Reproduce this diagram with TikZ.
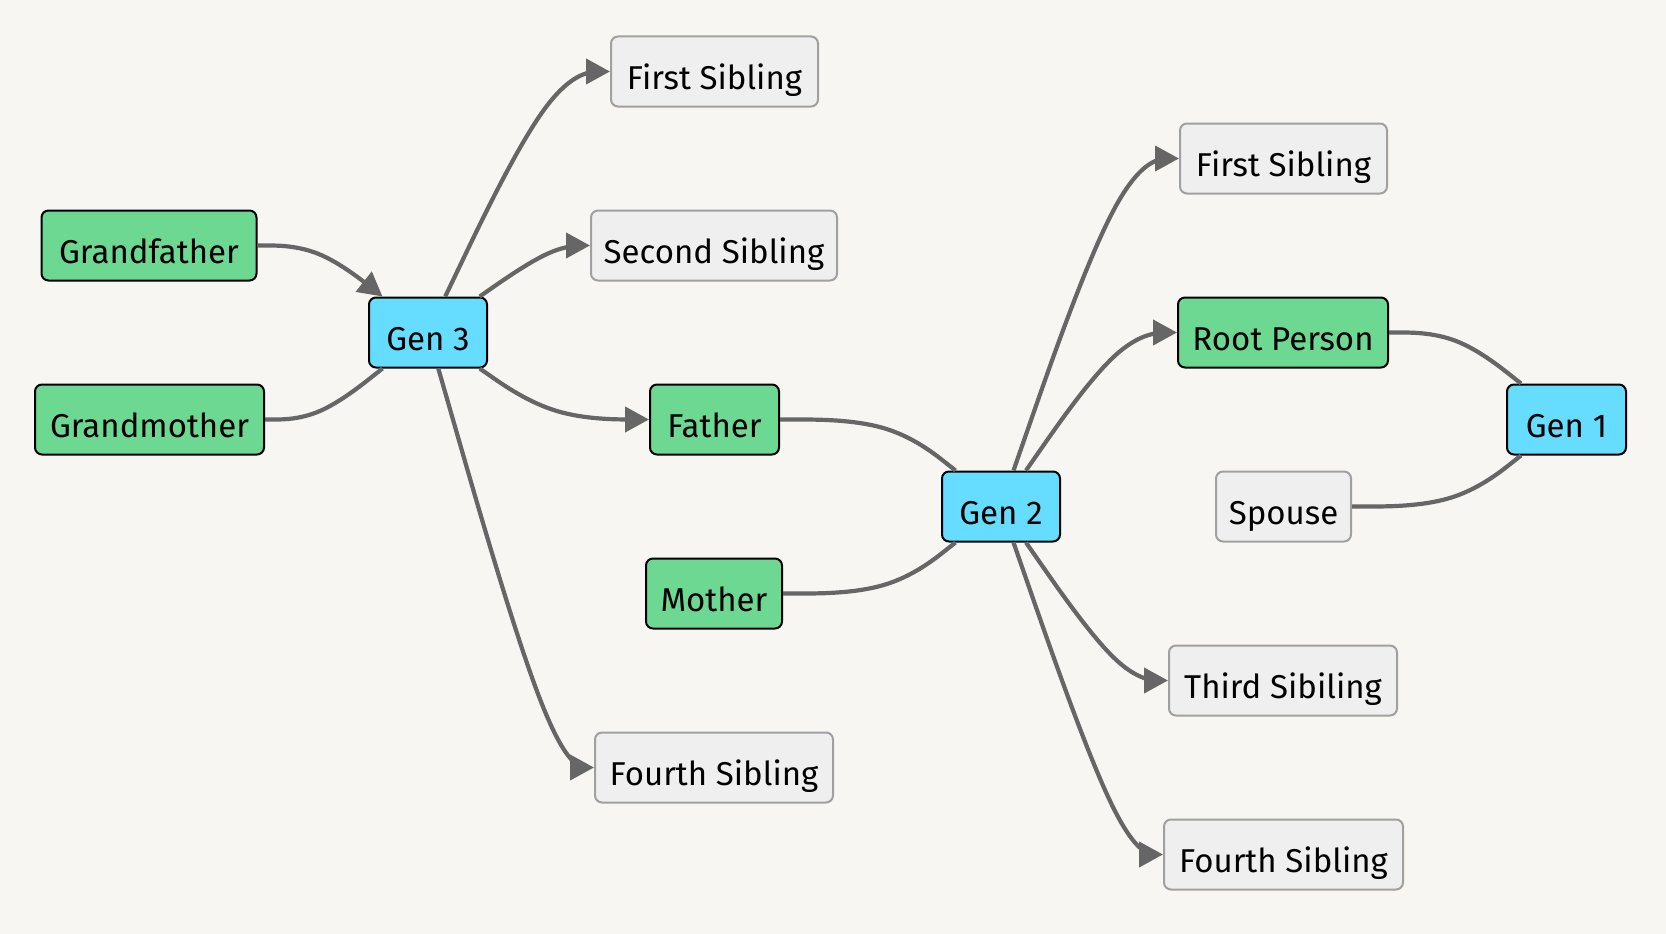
\documentclass[tikz,border=0pt]{standalone}
\usepackage{fontspec}
\setmainfont{Fira Sans}
\usetikzlibrary{calc,arrows.meta}
\definecolor{bgc}{HTML}{F7F6F3}
\definecolor{grn}{HTML}{6DD891}
\definecolor{cyn}{HTML}{66DDFF}
\definecolor{gry}{HTML}{EFEFEF}
\definecolor{gryb}{HTML}{A0A0A0}
\definecolor{edg}{HTML}{666666}
\tikzset{
 box/.style={rectangle, rounded corners=7pt, line width=2pt, minimum height=70pt, inner sep=0pt, text height=40pt, text depth=4pt, font=\fontsize{33}{38}\selectfont, align=center},
 person/.style={box, fill=grn, draw=black},
 gen/.style={box, fill=cyn, draw=black},
 other/.style={box, fill=gry, draw=gryb},
 link/.style={draw=edg, line width=4.2pt},
 arr/.style={link, -{Triangle[length=24pt,width=25pt]}},
}
\newcommand\fedge[6]{%
  \coordinate (eP) at ($(#6.center -| #4.center)+(#5,0)$);
  \path (#2) -- (eP) coordinate[pos=0] (eA);
  \path (eP) -- (#3) coordinate[pos=1] (eB);
  \coordinate (eM) at ($(eA)!0.5!(eB)$);
  \draw[#1] (eA) -- ($(eA)!1/6!(eP)$) .. controls ($(eA)!1/3!(eP)$) and ($(eA)!2/3!(eP)$) .. ($(eP)!1/3!(eM)$) .. controls ($(eP)!1/3!(eB)$) and ($(eP)!2/3!(eB)$) .. ($(eP)!5/6!(eB)$) -- (eB);
}
\begin{document}
\begin{tikzpicture}[x=1pt,y=-1pt]
\useasboundingbox (0,0) rectangle (1666,934);
\fill[bgc] (0,0) rectangle (1666,934);
% nodes
\node[person, minimum width=215pt] (gf) at (149,245.5) {Grandfather};
\node[person, minimum width=229pt] (gm) at (149.5,419.5) {Grandmother};
\node[gen, minimum width=118pt] (g3) at (428,332.5) {Gen 3};
\node[other, minimum width=207pt] (fs1) at (714.5,71.5) {First Sibling};
\node[other, minimum width=246pt] (ss1) at (714,245.5) {Second Sibling};
\node[person, minimum width=129pt] (fa) at (714.5,419.5) {Father};
\node[person, minimum width=136pt] (mo) at (714,593.5) {Mother};
\node[other, minimum width=238pt] (fo1) at (714,767.5) {Fourth Sibling};
\node[gen, minimum width=118pt] (g2) at (1001,506.5) {Gen 2};
\node[other, minimum width=207pt] (fs2) at (1283.5,158.5) {First Sibling};
\node[person, minimum width=210pt] (rp) at (1283,332.5) {Root Person};
\node[other, minimum width=135pt] (sp) at (1283.5,506.5) {Spouse};
\node[other, minimum width=228pt] (ts) at (1283,680.5) {Third Sibiling};
\node[other, minimum width=239pt] (fo2) at (1283.5,854.5) {Fourth Sibling};
\node[gen, minimum width=119pt] (g1) at (1566.5,419.5) {Gen 1};
% edges
\fedge{arr}{gf}{g3}{g3}{-110}{gf}
\fedge{link}{gm}{g3}{g3}{-110}{gm}
\fedge{arr}{g3}{fs1}{g3}{125}{fs1}
\fedge{arr}{g3}{ss1}{g3}{125}{ss1}
\fedge{arr}{g3}{fa}{g3}{125}{fa}
\fedge{arr}{g3}{fo1}{g3}{125}{fo1}
\fedge{link}{fa}{g2}{g2}{-110}{fa}
\fedge{link}{mo}{g2}{g2}{-110}{mo}
\fedge{arr}{g2}{fs2}{g2}{121}{fs2}
\fedge{arr}{g2}{rp}{g2}{121}{rp}
\fedge{arr}{g2}{ts}{g2}{121}{ts}
\fedge{arr}{g2}{fo2}{g2}{121}{fo2}
\fedge{link}{rp}{g1}{g1}{-110}{rp}
\fedge{link}{sp}{g1}{g1}{-110}{sp}
\end{tikzpicture}
\end{document}
